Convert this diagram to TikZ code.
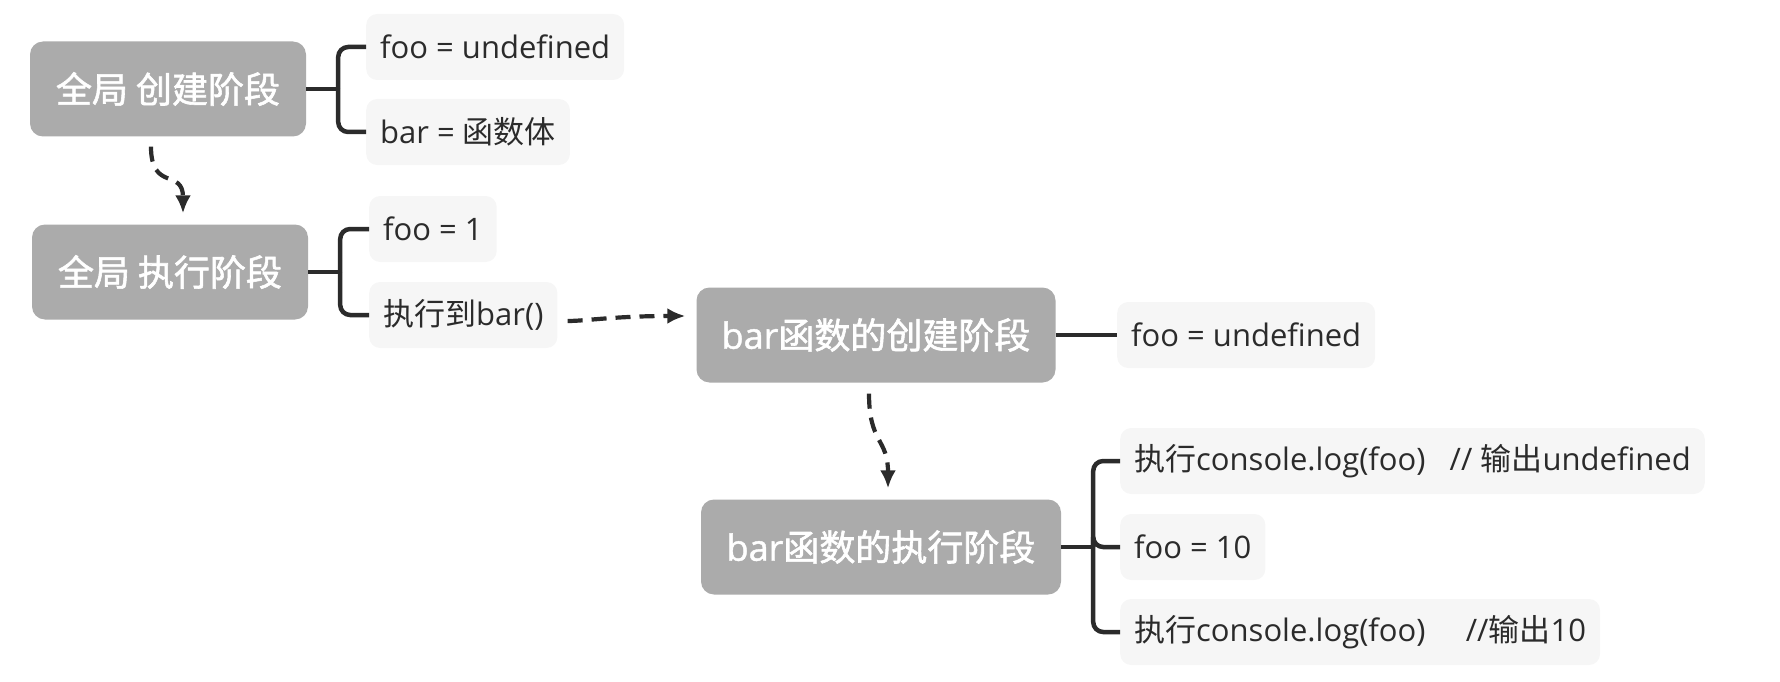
\documentclass[tikz,border=0pt]{standalone}
\usepackage{fontspec}
\setmainfont{Open Sans}
\newfontfamily\cjk{Noto Sans CJK SC}
\newfontfamily\cjkheavy{Noto Sans CJK SC}[FakeBold=1.6]
\newfontfamily\latinheavy{Open Sans}[FakeBold=1.2]
\usetikzlibrary{arrows.meta}
\definecolor{phasegray}{HTML}{ABABAB}
\definecolor{leafgray}{HTML}{F6F6F6}
\definecolor{inkgray}{HTML}{2B2B2B}

\begin{document}
\begin{tikzpicture}[x=1pt, y=-1pt,
  phase/.style={fill=phasegray, text=white, rounded corners=13pt, minimum height=95pt, inner xsep=18pt, font=\fontsize{36}{42}\selectfont\latinheavy\let\cjk\cjkheavy},
  leaf/.style={fill=leafgray, text=inkgray, rounded corners=11pt, minimum height=66pt, inner xsep=14pt, anchor=west, font=\fontsize{31}{36}\selectfont},
  branch/.style={draw=inkgray, line width=4.5pt, rounded corners=10pt},
  flow/.style={draw=inkgray, line width=4.2pt, dash pattern=on 15pt off 9pt, -{Latex[length=18pt,width=16pt]}}]
\useasboundingbox (0,0) rectangle (1780,682);
% phases
\node[phase, minimum width=276pt] (globcreate) at (168,89) {{\cjk 全局 创建阶段}};
\node[phase, minimum width=276pt] (globrun) at (170,272) {{\cjk 全局 执行阶段}};
\node[phase, minimum width=359pt] (barcreate) at (876,335) {bar{\cjk 函数的创建阶段}};
\node[phase, minimum width=360pt] (barrun) at (881,547) {bar{\cjk 函数的执行阶段}};
% leaves
\node[leaf] (fooundef) at (366,47) {foo = undefined};
\node[leaf] (barbody) at (366,132) {bar = {\cjk 函数体}};
\node[leaf] (fooone) at (369,229) {foo = 1};
\node[leaf] (callbar) at (369,315) {{\cjk 执行到}bar()};
\node[leaf] (localundef) at (1117,335) {foo = undefined};
\node[leaf] (logundef) at (1120,461) {{\cjk 执行}console.log(foo)\ \ \ // {\cjk 输出}undefined};
\node[leaf] (footen) at (1120,547) {foo = 10};
\node[leaf] (logten) at (1120,632) {{\cjk 执行}console.log(foo)\ \ \ \ \ //{\cjk 输出}10};
% brackets
\draw[branch] (globcreate.east) -- ++(32,0) coordinate (forkA);
\draw[branch] (forkA) |- (fooundef.west);
\draw[branch] (forkA) |- (barbody.west);
\draw[branch] (globrun.east) -- ++(32,0) coordinate (forkB);
\draw[branch] (forkB) |- (fooone.west);
\draw[branch] (forkB) |- (callbar.west);
\draw[branch] (barcreate.east) -- (localundef.west);
\draw[branch] (barrun.east) -- ++(32,0) coordinate (forkC);
\draw[branch] (forkC) |- (logundef.west);
\draw[branch] (forkC) |- (footen.west);
\draw[branch] (forkC) |- (logten.west);
% flow arrows
\draw[flow] ([xshift=-17pt,yshift=-10pt]globcreate.south) .. controls +(0,45) and +(0,-45) .. ([xshift=13pt,yshift=11pt]globrun.north);
\draw[flow] ([xshift=10pt,yshift=-6pt]callbar.east) .. controls +(18,0) and +(-70,0) .. ([xshift=-11pt,yshift=19pt]barcreate.west);
\draw[flow] ([xshift=-7pt,yshift=-11pt]barcreate.south) .. controls +(0,50) and +(0,-50) .. ([xshift=7pt,yshift=11pt]barrun.north);
\end{tikzpicture}
\end{document}
